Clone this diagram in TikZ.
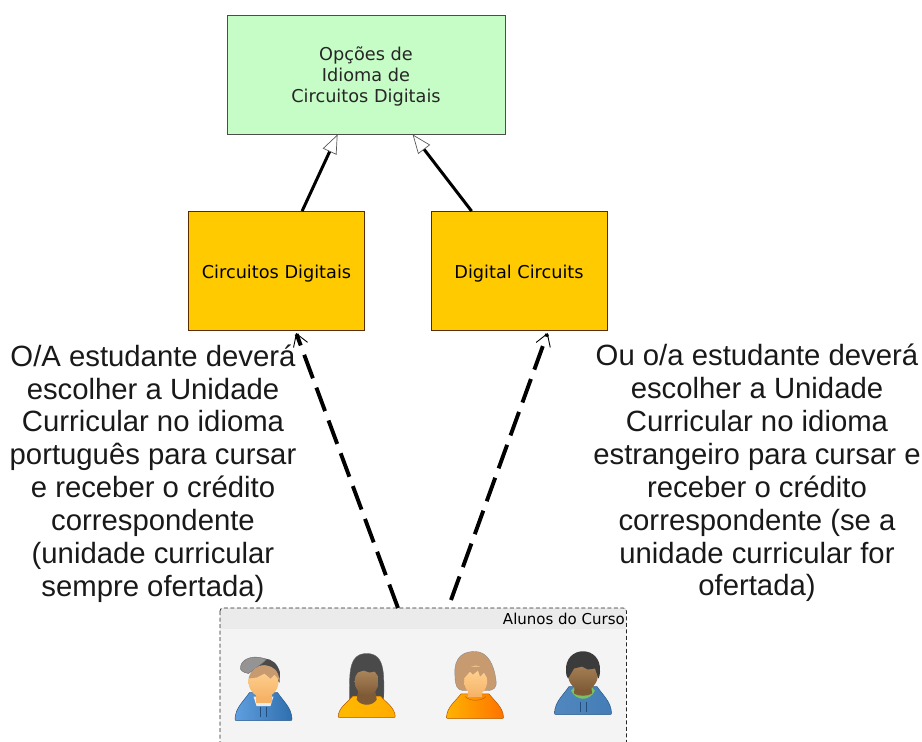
\documentclass[tikz,border=0pt]{standalone}
\usepackage{fontspec}
\setmainfont{Liberation Sans}
\newfontfamily\uifont{DejaVu Sans}
\usetikzlibrary{arrows.meta,calc}
\definecolor{skinA}{HTML}{FFD696}
\definecolor{skinB}{HTML}{F6B368}
\definecolor{darkA}{HTML}{B08A5E}
\definecolor{darkB}{HTML}{7E5A36}
\definecolor{hoodA}{HTML}{5F9FE0}
\definecolor{hoodB}{HTML}{2F6FAE}
\definecolor{hairdark}{HTML}{4A4A4A}
\definecolor{hairtan}{HTML}{C89A70}
\definecolor{boxgreen}{HTML}{C6FCC6}
\definecolor{boxyellow}{HTML}{FFCB00}
\definecolor{collargreen}{HTML}{7CC060}
\tikzset{
  optbox/.style={draw=#1,line width=.8pt,minimum width=176pt,minimum height=119pt,inner sep=0pt,font=\uifont\fontsize{17.7}{21}\selectfont,align=center},
  bodytext/.style={font=\fontsize{29.3}{32.9}\selectfont,align=center,text=black!90,inner sep=0pt},
  gen/.style={line width=3pt,-{Triangle[fill=white,color=black!65,length=19pt,width=15pt,line width=.7pt]}},
  use/.style={line width=3.9pt,dash pattern=on 25pt off 10pt,-{Straight Barb[length=12pt,width=15pt,line width=.9pt]}}
}
\newcommand{\pbody}[3]{\path[draw=#3,line width=.5pt,left color=#1,right color=#2]
  (-28.5,-1.5) .. controls (-28,-13) and (-20,-19) .. (-14,-28) -- (14,-28) .. controls (20,-19) and (28,-13) .. (28.5,-1.5) .. controls (28.5,0) and (28,0) .. (26,0) -- (-26,0) .. controls (-28,0) and (-28.5,0) .. (-28.5,-1.5) -- cycle;}
\begin{document}
\begin{tikzpicture}[x=1pt,y=-1pt]
\clip (0,0) rectangle (922,742);
\fill[white] (0,0) rectangle (922,742);

% group panel
\node[minimum width=406pt,minimum height=150pt,inner sep=0pt,fill=black!4.5,anchor=north west] (panel) at (220,608) {};
\fill[black!8] (220,608) rectangle (626,629);
\draw[black!85,line width=.7pt,dash pattern=on 4pt off 2.5pt,rounded corners=3pt] (panel.north west) rectangle (panel.south east);
\node[anchor=east,inner sep=0pt,font=\uifont\fontsize{15}{17}\selectfont] (paneltitle) at (625,619) {Alunos do Curso};

% boxes
\node[optbox=black!70,fill=boxgreen,minimum width=278pt,text=black!85] (opt) at (366,74.5) {\rule{0pt}{18.5pt}Opções de\\Idioma de\\Circuitos Digitais};
\node[optbox=black!65!orange,fill=boxyellow] (pt) at (276.5,271) {\rule{0pt}{19pt}Circuitos Digitais};
\node[optbox=black!65!orange,fill=boxyellow] (en) at (519,271) {\rule{0pt}{19pt}Digital Circuits};

% connectors
\draw[gen] ($(pt.north west)+(114,0)$) -- ($(opt.south west)+(111,0)$);
\draw[gen] ($(en.north west)+(41,0)$) -- ($(opt.south west)+(186,0)$);
\draw[use] ($(panel.north west)+(178,0)$) -- ($(pt.south west)+(108,2)$);
\draw[use] ($(panel.north west)+(231,-8)$) -- ($(en.south west)+(117,2)$);

% texts
\node[bodytext] (leftnote) at (153,473.5) {O/A estudante deverá\\escolher a Unidade\\Curricular no idioma\\português para cursar\\e receber o crédito\\correspondente\\(unidade curricular\\sempre ofertada)};
\node[bodytext] (rightnote) at (757,473) {Ou o/a estudante deverá\\escolher a Unidade\\Curricular no idioma\\estrangeiro para cursar e\\receber o crédito\\correspondente (se a\\unidade curricular for\\ofertada)};

% person 1
\begin{scope}[shift={(263.5,720.5)}]
\pbody{hoodA}{hoodB}{hoodB!80!black}
\fill[white!92!black] (-10,-24) -- (10,-24) -- (7,-14.5) -- (-7,-14.5) -- cycle;
\draw[hoodB!70!black,line width=.5pt] (-3,-14) -- (-3,-4) (3,-14) -- (3,-4);
\fill[skinB] (-8,-30) rectangle (8,-17.5);
\fill[hairdark] (-14,-51) .. controls (-8,-66) and (12,-66) .. (16.5,-48) -- (16,-38) -- (8,-44) -- cycle;
\shade[top color=skinA,bottom color=skinB] (0,-39) ellipse [x radius=15,y radius=16];
\fill[black!42,draw=black!60,line width=.4pt] (-23,-54) .. controls (-21,-63) and (-8,-66) .. (3,-61) .. controls (-2,-56) and (-11,-50) .. (-15,-47) .. controls (-20,-48) and (-24,-50) .. (-23,-54) -- cycle;
\fill[hairtan] (-15,-42) .. controls (-13,-50) and (-6,-56) .. (3,-55) .. controls (10,-54) and (15,-50) .. (16,-40) -- (11,-46) -- (7,-42) -- (1,-47) -- (-7,-43) -- cycle;
\end{scope}

% person 2
\begin{scope}[shift={(366.7,717.5)}]
\fill[hairdark,draw=black!60,line width=.4pt] (-17,-14) .. controls (-17,-40) and (-20,-64) .. (0,-64) .. controls (20,-64) and (17,-40) .. (17,-14) -- cycle;
\begin{scope}[yscale=.76]\pbody{orange!55!yellow}{orange!65!yellow}{orange!70!black}\end{scope}
\fill[darkB] (-8,-30) -- (8,-30) -- (10,-18) .. controls (6,-11) and (-6,-11) .. (-10,-18) -- cycle;
\shade[top color=darkA,bottom color=darkB] (0,-36) ellipse [x radius=12,y radius=14];
\fill[hairdark] (-13,-40) .. controls (-11,-54) and (11,-54) .. (13,-40) -- (8,-46) -- (3,-45) -- (-3,-47) -- (-9,-45) -- cycle;
\end{scope}

% person 3
\begin{scope}[shift={(475,718.5)}]
\fill[hairtan,draw=black!45,line width=.4pt] (-20,-42) .. controls (-22,-65) and (-8,-67) .. (0,-67) .. controls (12,-67) and (19,-55) .. (21,-38) .. controls (22,-31) and (19,-28) .. (12,-28) -- (-12,-28) .. controls (-18,-28) and (-20,-34) .. (-20,-42) -- cycle;
\begin{scope}[yscale=.88]\pbody{orange!60!yellow}{orange!90!red}{orange!70!black}\end{scope}
\fill[skinB] (-7,-30) rectangle (7,-22);
\shade[top color=skinA,bottom color=skinB] (0.7,-38) ellipse [x radius=11.5,y radius=15];
\draw[orange!70!black,line width=.4pt] (-10,-22) .. controls (-5,-17) and (6,-17) .. (11,-22);
\fill[hairtan] (-12,-39) -- (-11,-52) -- (12,-52) -- (13,-39) -- (9,-46) -- (5,-42) -- (3,-48) -- (-2,-44) -- (-5,-47) -- cycle;
\end{scope}

% person 4
\begin{scope}[shift={(583,714.5)}]
\pbody{hoodA!85!black}{hoodB!90!white}{hoodB!80!black}
\fill[collargreen] (-12,-24) .. controls (-7,-13) and (7,-13) .. (12,-24) -- (8,-28) -- (-8,-28) -- cycle;
\draw[hoodB!70!black,line width=.5pt] (-3,-13) -- (-3,-3) (3,-13) -- (3,-3);
\fill[darkB] (-8,-32) -- (8,-32) -- (9,-21) .. controls (5,-18) and (-5,-18) .. (-9,-21) -- cycle;
\shade[top color=darkA,bottom color=darkB] (0,-40) ellipse [x radius=15,y radius=16];
\fill[hairdark!80!black] (-17,-43) .. controls (-19,-70) and (19,-70) .. (17,-43) .. controls (17,-40) and (16.5,-38) .. (15.5,-36) -- (12,-46) -- (5,-45) -- (-1,-48) -- (-9,-46) -- (-15,-36) .. controls (-16.5,-38) and (-17,-40) .. (-17,-43) -- cycle;
\end{scope}
\end{tikzpicture}
\end{document}
